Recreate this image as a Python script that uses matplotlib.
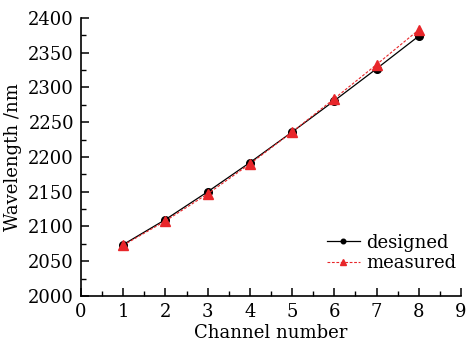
import matplotlib
matplotlib.use("Agg")
import matplotlib.pyplot as plt
from matplotlib.ticker import MultipleLocator

channels = [1, 2, 3, 4, 5, 6, 7, 8]
designed = [2074, 2110, 2150, 2192, 2236, 2281, 2327, 2374]
measured = [2073, 2108, 2147, 2190, 2236, 2284, 2333, 2383]

plt.rcParams['font.family'] = ['DejaVu Serif']
fig = plt.figure(figsize=(4.66, 3.43), dpi=100)
ax = fig.add_axes([81/466, 1-296/343, 380/466, 278/343])

ax.plot(channels, designed, color='black', lw=0.9, marker='o', ms=5.5, label='designed')
ax.plot(channels, measured, color='#e8262a', lw=0.8, ls=(0, (2.5, 1.5)), marker='^', ms=6.5, label='measured')

ax.set_xlim(0, 9)
ax.set_ylim(2000, 2400)
ax.xaxis.set_major_locator(MultipleLocator(1))
ax.xaxis.set_minor_locator(MultipleLocator(0.5))
ax.yaxis.set_major_locator(MultipleLocator(50))
ax.yaxis.set_minor_locator(MultipleLocator(25))
for s in ['top', 'right']:
    ax.spines[s].set_visible(False)
for s in ['left', 'bottom']:
    ax.spines[s].set_linewidth(1.2)
ax.tick_params(which='major', direction='in', length=6, width=1.1, labelsize=13, pad=5)
ax.tick_params(which='minor', direction='in', length=3.5, width=1.0)

ax.set_xlabel('Channel number', fontsize=13, labelpad=2)
ax.set_ylabel('Wavelength /nm', fontsize=13)
ax.yaxis.set_label_coords(-(81 - 22) / 380, 0.5)

ax.legend(loc='lower right', bbox_to_anchor=(1.02, 0.04), frameon=False, fontsize=13,
          markerscale=0.6, handlelength=1.8, handletextpad=0.35, labelspacing=0.15, borderpad=0.2)

fig.savefig('out.png', dpi=100)
